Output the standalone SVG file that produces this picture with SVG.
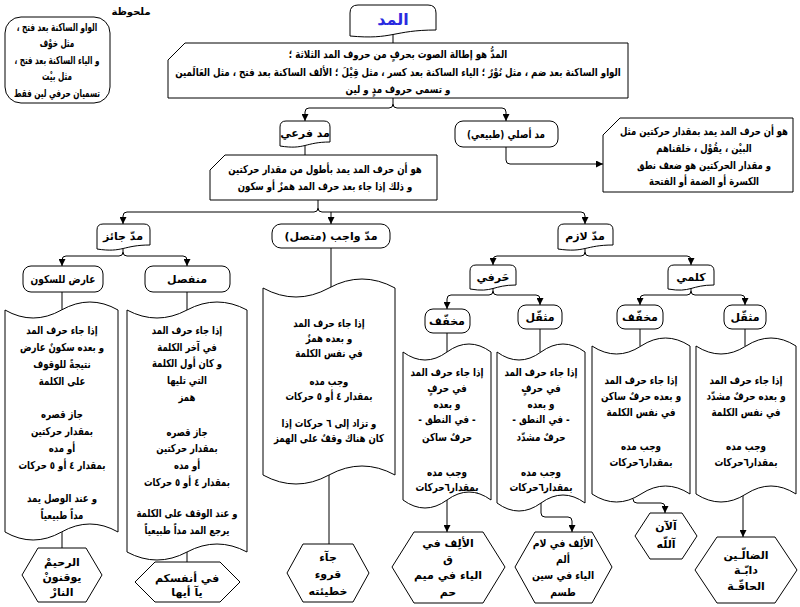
<svg xmlns="http://www.w3.org/2000/svg" width="800" height="607" viewBox="0 0 800 607">
<style>
.s{fill:#fff;stroke:#000;stroke-width:1}
.c{fill:none;stroke:#000;stroke-width:1}
.ca{fill:none;stroke:#000;stroke-width:1;marker-end:url(#arr)}
text{font-family:"DejaVu Sans",sans-serif;font-size:11px;font-weight:bold;text-anchor:middle;direction:rtl;fill:#000}
.title{font-size:16px;font-weight:bold;fill:#2a2ae0}
</style>
<defs>
<marker id="arr" viewBox="0 0 8 8" refX="8" refY="4" markerWidth="7" markerHeight="7" orient="auto" markerUnits="userSpaceOnUse"><path d="M0,0 L8,4 L0,8 Z" fill="#000"/></marker>
</defs>
<rect width="800" height="607" fill="#fff"/>

<g id="connectors">
<path class="c" d="M393,33 V43"/>
<path class="ca" d="M393,98 V104 Q393,108 389,108 H309 Q305,108 305,112 V121"/>
<path class="ca" d="M393,104 Q393,108 397,108 H502 Q506,108 506,112 V121"/>
<path class="ca" d="M506,147 V160 Q506,164 510,164 H603"/>
<path class="c" d="M305,146 V155"/>
<path class="ca" d="M318,200 V208 Q318,212 314,212 H127 Q123,212 123,216 V224"/>
<path class="ca" d="M318,208 Q318,212 322,212 H581 Q585,212 585,216 V224"/>
<path class="ca" d="M331,212 V224"/>
<path class="ca" d="M123,247 V252 Q123,256 119,256 H66 Q62,256 62,260 V266"/>
<path class="ca" d="M123,252 Q123,256 127,256 H183 Q187,256 187,260 V266"/>
<path class="c" d="M62,292 V310"/>
<path class="c" d="M187,292 V310"/>
<path class="c" d="M331,248 V288"/>
<path class="c" d="M62,532 V548"/>
<path class="c" d="M187,552 V562"/>
<path class="c" d="M329,475 V544"/>
<path class="ca" d="M585,248 V252 Q585,256 581,256 H497 Q493,256 493,260 V265"/>
<path class="ca" d="M585,252 Q585,256 589,256 H687 Q691,256 691,260 V265"/>
<path class="ca" d="M493,288 V291 Q493,295 489,295 H451 Q447,295 447,299 V309"/>
<path class="ca" d="M493,291 Q493,295 497,295 H536 Q540,295 540,299 V305"/>
<path class="ca" d="M691,288 V291 Q691,295 687,295 H644 Q640,295 640,299 V305"/>
<path class="ca" d="M691,291 Q691,295 695,295 H741 Q745,295 745,299 V305"/>
<path class="c" d="M447,333 V352"/>
<path class="c" d="M540,329 V352"/>
<path class="c" d="M640,329 V346"/>
<path class="c" d="M745,329 V346"/>
<path class="ca" d="M447,500 V532"/>
<path class="ca" d="M541,503 V513 Q541,517 545,517 H568 Q572,517 572,521 V532"/>
<path class="ca" d="M633,499 Q633,503 637,503 H661 Q665,503 665,507 V513"/>
<path class="ca" d="M743,496 V537"/>
</g>

<g id="note">
<text x="131" y="15" style="font-size:10px">ملحوظة</text>
<rect class="s" x="5" y="17" width="105" height="86" rx="16"/>
<g transform="translate(57,0) scale(0.66,1)">
<text x="0" y="31">الواو الساكنة بعد فتح ،</text>
<text x="0" y="47">مثل  خوْف</text>
<text x="0" y="64">و الياء الساكنة بعد فتح ،</text>
<text x="0" y="80">مثل  بيْت</text>
<text x="0" y="97">تسميان حرفي لين فقط</text>
</g>
</g>

<g id="title">
<path class="s" d="M358,5 H428 Q436,5 436,13 V30 C393,30 393,40 350,36 V13 Q350,5 358,5 Z"/>
<text class="title" x="393" y="25">المد</text>
</g>

<g id="definition">
<path class="s" d="M185,43 H628 V98 H168 V60 Z"/>
<g transform="translate(398,0) scale(0.79,1)">
<text x="0" y="58">المدُّ هو إطالة الصوت بحرفٍ من حروف المد الثلاثة ؛</text>
<text x="0" y="76">الواو الساكنة بعد ضم ، مثل نُوْرٌ ؛ الياء الساكنة بعد كسر ، مثل قِيْلَ ؛ الألف الساكنة بعد فتح ، مثل العَالَمين</text>
<text x="0" y="93">و تسمى حروف مدٍ و لين</text>
</g>
</g>

<g id="far3i">
<path class="s" d="M286,121 H324 Q330,121 330,127 V142 C305,142 305,150 280,146 V127 Q280,121 286,121 Z"/>
<text x="305" y="137">مد فرعي</text>
</g>

<g id="asli">
<rect class="s" x="455" y="121" width="103" height="26" rx="8"/>
<g transform="translate(506,0) scale(0.8,1)">
<text x="0" y="138">مد أصلي (طبيعي)</text>
</g>
</g>

<g id="asli-def">
<path class="s" d="M620,118 H793 V192 H603 V135 Z"/>
<g transform="translate(704,0) scale(0.77,1)">
<text x="0" y="135">هو أن حرف المد يمد بمقدار حركتين مثل</text>
<text x="0" y="152">البيْن ، يقُوْل ، خلقناهم</text>
<text x="0" y="169">و مقدار الحركتين هو ضعف نطق</text>
<text x="0" y="185">الكسرة أو الضمة أو الفتحة</text>
</g>
</g>

<g id="far3i-def">
<path class="s" d="M225,155 H437 V200 H210 V170 Z"/>
<g transform="translate(325,0) scale(0.78,1)">
<text x="0" y="173">هو أن حرف المد يمد بأطول من مقدار حركتين</text>
<text x="0" y="190">و ذلك إذا جاء بعد حرف المد همزٌ أو سكون</text>
</g>
</g>

<g id="jaiz">
<path class="s" d="M103,224 H144 Q150,224 150,230 V245 C123,245 123,253 97,249 V230 Q97,224 103,224 Z"/>
<text x="123" y="240">مدّ جائز</text>
</g>

<g id="wajib">
<rect class="s" x="272" y="224" width="118" height="24" rx="9"/>
<text x="331" y="240">مدّ واجب (متصل)</text>
</g>

<g id="lazim">
<path class="s" d="M564,224 H607 Q613,224 613,230 V245 C585,245 585,253 558,249 V230 Q558,224 564,224 Z"/>
<text x="585" y="240">مدّ لازم</text>
</g>

<g id="arid">
<rect class="s" x="23" y="266" width="80" height="26" rx="8"/>
<g transform="translate(63,0) scale(0.82,1)">
<text x="0" y="283">عارض للسكون</text>
</g>
</g>

<g id="munfasil">
<rect class="s" x="145" y="266" width="85" height="26" rx="8"/>
<text x="187" y="283">منفصل</text>
</g>

<g id="arid-def">
<path class="s" d="M5,310 Q33,326 61.5,310 T118,310 L118,532 Q90,516 61.5,532 T5,532 Z"/>
<g transform="translate(62,0) scale(0.78,1)">
<text x="0" y="334">إذا جاء حرف المد</text>
<text x="0" y="351">و بعده سكونٌ عارض</text>
<text x="0" y="368">نتيجةً للوقوف</text>
<text x="0" y="385">على الكلمة</text>
<text x="0" y="418">جاز قصره</text>
<text x="0" y="435">بمقدار حركتين</text>
<text x="0" y="452">أو مده</text>
<text x="0" y="469">بمقدار ٤ أو ٥ حركات</text>
<text x="0" y="502">و عند الوصل يمد</text>
<text x="0" y="519">مداً طبيعياً</text>
</g>
</g>

<g id="munfasil-def">
<path class="s" d="M127,310 Q157,326 187,310 T247,310 L247,552 Q217,536 187,552 T127,552 Z"/>
<g transform="translate(187,0) scale(0.77,1)">
<text x="0" y="334">إذا جاء حرف المد</text>
<text x="0" y="351">في آخر الكلمة</text>
<text x="0" y="367">و كان أول الكلمة</text>
<text x="0" y="384">التي تليها</text>
<text x="0" y="401">همز</text>
<text x="0" y="436">جاز قصره</text>
<text x="0" y="452">بمقدار حركتين</text>
<text x="0" y="469">أو مده</text>
<text x="0" y="486">بمقدار ٤ أو ٥ حركات</text>
<text x="0" y="517">و عند الوقف على الكلمة</text>
<text x="0" y="534">يرجع المد مداً طبيعياً</text>
</g>
</g>

<g id="arid-ex">
<polygon class="s" points="22,575 38,548 86,548 102,575 86,602 38,602"/>
<text x="62" y="566">الرحيمْ</text>
<text x="62" y="581">يوقنونْ</text>
<text x="62" y="596">النارْ</text>
</g>

<g id="munfasil-ex">
<polygon class="s" points="135,582 155,562 220,562 240,582 220,602 155,602"/>
<text x="187" y="582">في أنفسكم</text>
<text x="187" y="596">يآ أيها</text>
</g>

<g id="wajib-def">
<path class="s" d="M263,288 Q296,306 329,288 T395,288 L395,475 Q362,457 329,475 T263,475 Z"/>
<g transform="translate(329,0) scale(0.78,1)">
<text x="0" y="327">إذا جاء حرف المد</text>
<text x="0" y="342">و بعده همزٌ</text>
<text x="0" y="357">في نفس الكلمة</text>
<text x="0" y="385">وجب مده</text>
<text x="0" y="400">بمقدار ٤ أو ٥ حركات</text>
<text x="0" y="427">و تزاد إلى ٦ حركات إذا</text>
<text x="0" y="442">كان هناك وقفٌ على الهمز</text>
</g>
</g>

<g id="wajib-ex">
<polygon class="s" points="287,573 303,544 353,544 369,573 353,602 303,602"/>
<text x="328" y="561">جآء</text>
<text x="328" y="578">قروء</text>
<text x="328" y="595">خطيئته</text>
</g>

<g id="harfi">
<path class="s" d="M476,265 H510 Q516,265 516,271 V285 C493,285 493,293 470,289 V271 Q470,265 476,265 Z"/>
<text x="493" y="281">حَرفي</text>
</g>

<g id="kalimi">
<path class="s" d="M674,265 H708 Q714,265 714,271 V285 C691,285 691,293 668,289 V271 Q668,265 674,265 Z"/>
<text x="691" y="281">كلمي</text>
</g>

<g id="harfi-mukhaffaf">
<rect class="s" x="425" y="309" width="45" height="24" rx="8"/>
<text x="447" y="325">مخفّف</text>
</g>

<g id="harfi-muthaqqal">
<rect class="s" x="518" y="305" width="44" height="24" rx="8"/>
<text x="540" y="321">مثقّل</text>
</g>

<g id="kalimi-mukhaffaf">
<rect class="s" x="617" y="305" width="46" height="24" rx="8"/>
<text x="640" y="321">مخفّف</text>
</g>

<g id="kalimi-muthaqqal">
<rect class="s" x="724" y="305" width="42" height="24" rx="8"/>
<text x="745" y="321">مثقّل</text>
</g>

<g id="harfi-mukhaffaf-def">
<path class="s" d="M403,352 Q425,368 447,352 T491,352 L491,500 Q469,484 447,500 T403,500 Z"/>
<g transform="translate(447,0) scale(0.8,1)">
<text x="0" y="376">إذا جاء حرف المد</text>
<text x="0" y="392">في حرفٍ</text>
<text x="0" y="408">و بعده</text>
<text x="0" y="423">-  في النطق  -</text>
<text x="0" y="441">حرفٌ ساكن</text>
<text x="0" y="476">وجب مده</text>
<text x="0" y="491">بمقدار٦حركات</text>
</g>
</g>

<g id="harfi-muthaqqal-def">
<path class="s" d="M497,352 Q519,368 541,352 T585,352 L585,503 Q563,487 541,503 T497,503 Z"/>
<g transform="translate(541,0) scale(0.8,1)">
<text x="0" y="376">إذا جاء حرف المد</text>
<text x="0" y="392">في حرفٍ</text>
<text x="0" y="408">و بعده</text>
<text x="0" y="423">-  في النطق  -</text>
<text x="0" y="441">حرفٌ مشدّد</text>
<text x="0" y="476">وجب مده</text>
<text x="0" y="491">بمقدار٦حركات</text>
</g>
</g>

<g id="kalimi-mukhaffaf-def">
<path class="s" d="M592,346 Q616.5,362 641,346 T690,346 L690,494 Q665.5,478 641,494 T592,494 Z"/>
<g transform="translate(641,0) scale(0.8,1)">
<text x="0" y="384">إذا جاء حرف المد</text>
<text x="0" y="400">و بعده حرفٌ ساكن</text>
<text x="0" y="416">في نفس الكلمة</text>
<text x="0" y="450">وجب مده</text>
<text x="0" y="466">بمقدار٦حركات</text>
</g>
</g>

<g id="kalimi-muthaqqal-def">
<path class="s" d="M696,346 Q721,362 746,346 T796,346 L796,494 Q771,478 746,494 T696,494 Z"/>
<g transform="translate(746,0) scale(0.8,1)">
<text x="0" y="384">إذا جاء حرف المد</text>
<text x="0" y="400">و بعده حرفٌ مشدّد</text>
<text x="0" y="416">في نفس الكلمة</text>
<text x="0" y="450">وجب مده</text>
<text x="0" y="466">بمقدار٦حركات</text>
</g>
</g>

<g id="harfi-mukhaffaf-ex">
<polygon class="s" points="392,567 414,532 483,532 505,567 483,603 414,603"/>
<text x="448" y="547">الألِف في</text>
<text x="448" y="563">ق</text>
<text x="448" y="579">الياء في ميم</text>
<text x="448" y="596">حم</text>
</g>

<g id="harfi-muthaqqal-ex">
<polygon class="s" points="515,567 535,532 592,532 612,567 592,603 535,603"/>
<g transform="translate(563,0) scale(0.85,1)">
<text x="0" y="547">الألِف في لام</text>
<text x="0" y="563">ألم</text>
<text x="0" y="579">الياء في سين</text>
<text x="0" y="596">طسم</text>
</g>
</g>

<g id="kalimi-mukhaffaf-ex">
<polygon class="s" points="635,536 650,513 682,513 697,536 682,559 650,559"/>
<text x="666" y="530">آلآن</text>
<text x="666" y="548">آللّه</text>
</g>

<g id="kalimi-muthaqqal-ex">
<polygon class="s" points="695,570 717,537 775,537 797,570 775,603 717,603"/>
<text x="746" y="559">الضالّـين</text>
<text x="746" y="574">دابّـة</text>
<text x="746" y="590">الحاقّـة</text>
</g>
</svg>
